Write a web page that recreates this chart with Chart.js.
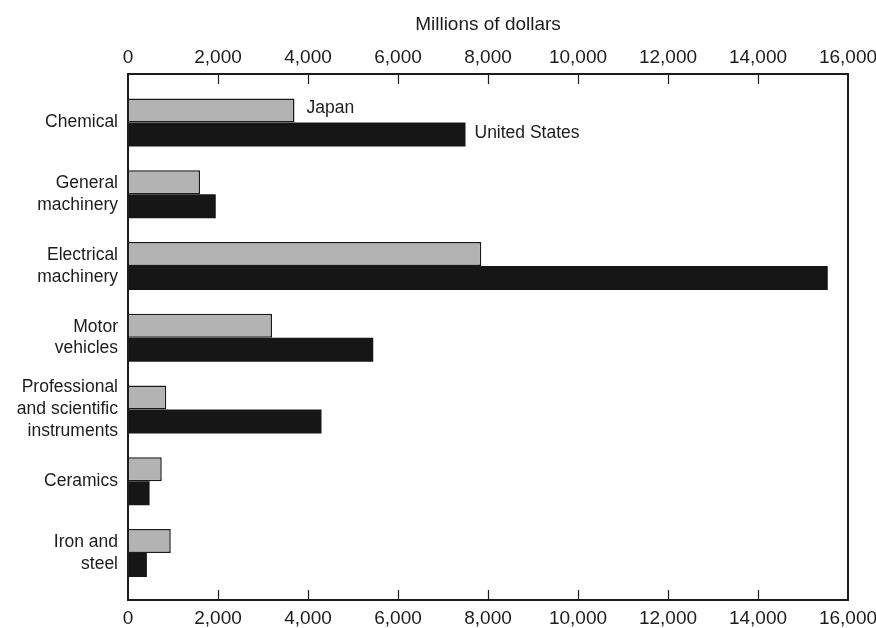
<!DOCTYPE html>
<html>
<head>
<meta charset="utf-8">
<script src="https://cdn.jsdelivr.net/npm/chart.js@4/dist/chart.umd.min.js"></script>
<style>
  html, body { margin: 0; padding: 0; background: #ffffff; }
  #wrap { width: 876px; height: 628px; position: relative; }
</style>
</head>
<body>
<div id="wrap"><canvas id="c" width="876" height="628"></canvas></div>
<script>
const categories = [
  "Chemical",
  ["General", "machinery"],
  ["Electrical", "machinery"],
  ["Motor", "vehicles"],
  ["Professional", "and scientific", "instruments"],
  "Ceramics",
  ["Iron and", "steel"]
];
const japanValues = [3700, 1600, 7850, 3200, 850, 750, 950];
const usValues = [7500, 1950, 15550, 5450, 4300, 480, 420];
const seriesNames = ["Japan", "United States"];
const axisTitle = "Millions of dollars";
const xMin = 0, xMax = 16000, xStep = 2000;

const FONT = "'Liberation Sans', Arial, sans-serif";
const INK = "#1c1c1c";

const framePlugin = {
  id: 'frame',
  afterDatasetsDraw(chart) {
    const ctx = chart.ctx;
    const a = chart.chartArea;
    const top = a.top - 12.6, bottom = a.bottom + 11.2;
    const xs = chart.scales.x;
    ctx.save();
    ctx.strokeStyle = INK;
    ctx.lineWidth = 2;
    ctx.strokeRect(a.left, top, a.right - a.left, bottom - top);
    ctx.lineWidth = 1.2;
    xs.ticks.forEach(t => {
      const px = Math.round(xs.getPixelForValue(t.value)) + 0.5;
      if (t.value === xMin || t.value === xMax) return;
      ctx.beginPath();
      ctx.moveTo(px, top); ctx.lineTo(px, top + 10);
      ctx.moveTo(px, bottom); ctx.lineTo(px, bottom - 10);
      ctx.stroke();
    });
    // series labels next to the first category bars
    ctx.fillStyle = INK;
    ctx.font = "17.5px " + FONT;
    ctx.textBaseline = 'middle';
    ctx.textAlign = 'left';
    const j = chart.getDatasetMeta(0).data[0];
    const u = chart.getDatasetMeta(1).data[0];
    ctx.fillText(seriesNames[0], j.x + 12, j.y - 2);
    ctx.fillText(seriesNames[1], u.x + 9, u.y - 1);
    ctx.restore();
  }
};

function noSidePadding(s, h) {
  s.height = h;
  s.paddingLeft = 0;
  s.paddingRight = 0;
}

new Chart(document.getElementById('c'), {
  type: 'bar',
  data: {
    labels: categories,
    datasets: [
      {
        label: seriesNames[0],
        data: japanValues,
        backgroundColor: '#b3b3b3',
        borderColor: '#1a1a1a',
        borderWidth: 1.5,
        borderSkipped: 'start',
        xAxisID: 'x'
      },
      {
        label: seriesNames[1],
        data: usValues,
        backgroundColor: '#161616',
        borderColor: '#161616',
        borderWidth: 0,
        xAxisID: 'x'
      }
    ]
  },
  options: {
    indexAxis: 'y',
    responsive: false,
    animation: false,
    devicePixelRatio: 1,
    layout: { padding: { left: 0, right: 28, top: 0, bottom: 0 } },
    categoryPercentage: 0.67,
    barPercentage: 1.0,
    plugins: {
      legend: { display: false },
      tooltip: { enabled: false }
    },
    scales: {
      x: {
        position: 'top',
        min: xMin, max: xMax,
        grid: { display: false, drawTicks: false },
        border: { display: false },
        ticks: {
          stepSize: xStep,
          padding: 17,
          color: INK,
          font: { family: FONT, size: 19 },
          maxRotation: 0,
          callback: v => v.toLocaleString('en-US')
        },
        title: {
          display: true,
          text: axisTitle,
          color: INK,
          font: { family: FONT, size: 19 },
          padding: { top: 13.6, bottom: 0 }
        },
        afterFit: s => noSidePadding(s, 86.6)
      },
      xb: {
        position: 'bottom',
        min: xMin, max: xMax,
        grid: { display: false, drawTicks: false },
        border: { display: false },
        ticks: {
          stepSize: xStep,
          padding: 18.8,
          color: INK,
          font: { family: FONT, size: 19 },
          maxRotation: 0,
          callback: v => v.toLocaleString('en-US')
        },
        afterFit: s => noSidePadding(s, 39.2)
      },
      y: {
        offset: true,
        grid: { display: false, drawTicks: false },
        border: { display: false },
        ticks: {
          padding: 10,
          color: INK,
          font: { family: FONT, size: 17.5, lineHeight: 1.25 }
        },
        afterFit: s => { s.width = 128; }
      }
    }
  },
  plugins: [framePlugin]
});
</script>
</body>
</html>
